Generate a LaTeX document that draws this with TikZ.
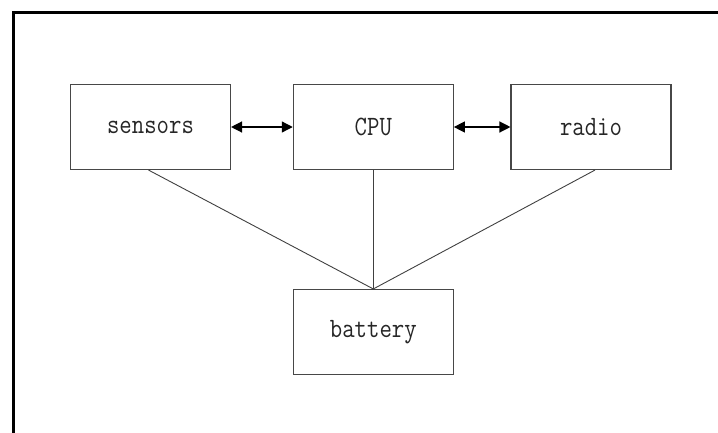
\documentclass[tikz,border=0pt]{standalone}
\usepackage{graphicx}
\usetikzlibrary{arrows.meta}
\begin{document}
\begin{tikzpicture}[x=1pt,y=1pt,
  blk/.style={draw=black!72, line width=1.1pt, minimum width=160pt, minimum height=85pt, inner sep=0pt, font=\ttfamily\fontsize{28}{32}\selectfont, text=black!85},
  link/.style={draw=black!75, line width=0.9pt},
  biarrow/.style={draw=black, line width=1.3pt, {Triangle[length=11pt,width=11pt]}-{Triangle[length=11pt,width=11pt]}},
  frame/.style={draw=black, line width=3pt}
]
\useasboundingbox (0,0) rectangle (718,-432);
\coordinate (ftr) at (722,-12.5);
\coordinate (ftl) at (13.5,-12.5);
\coordinate (fbl) at (13.5,-436);
\draw[frame] (ftr) -- (ftl) -- (fbl);

\node[blk] (sensors) at (150.5,-127) {\scalebox{0.86}[1]{sensors}};
\node[blk] (cpu) at (373.3,-127) {\scalebox{0.86}[1]{CPU}};
\node[blk] (radio) at (591,-127) {\scalebox{0.86}[1]{radio}};
\node[blk] (battery) at (373.3,-332) {\scalebox{0.86}[1]{battery}};

\draw[biarrow] (sensors.east) -- (cpu.west);
\draw[biarrow] (cpu.east) -- (radio.west);

\draw[link] ([xshift=-2pt]sensors.south) -- (battery.north);
\draw[link] (cpu.south) -- (battery.north);
\draw[link] ([xshift=4pt]radio.south) -- (battery.north);
\end{tikzpicture}
\end{document}
